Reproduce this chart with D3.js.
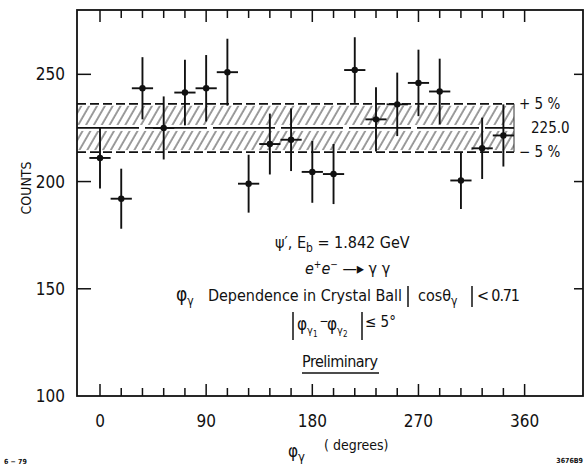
<!DOCTYPE html>
<html>
<head>
<meta charset="utf-8">
<script src="https://cdn.jsdelivr.net/npm/d3@7"></script>
<style>
  html, body { margin: 0; padding: 0; background: #fff; }
  svg { display: block; }
  text { fill: #111; }
</style>
</head>
<body>
<svg id="chart" width="588" height="467"></svg>
<script>
// phi_gamma bin centres (degrees), 18-degree bins
const phiBins = [0, 18, 36, 54, 72, 90, 108, 126, 144, 162, 180, 198, 216, 234, 252, 270, 288, 306, 324, 342];
// counts per bin
const counts = [211, 192, 243.5, 225, 241.5, 243.5, 251, 199, 217.5, 219.5, 204.5, 203.5, 252, 229, 236, 246, 242, 200.5, 215.5, 221.5];
// statistical errors per bin
const countErrors = [14.2, 14, 14.5, 14.7, 15.3, 15.5, 15.6, 13.5, 14.2, 14.6, 14.4, 14, 15.3, 15, 14.8, 15.5, 15.3, 13.3, 14.3, 14.5];
const binHalfWidth = 9;

// flat fit and its +-5% band
const bandMean = 225.0;
const bandPercent = 5;
const bandEndPhi = 351;

// axis ticks
const xMajorTicks = [0, 90, 180, 270, 360];
const xMinorTicks = d3.range(0, 361, 18);
const yTicks = [100, 150, 200, 250];

const FONT = "'DejaVu Sans Condensed', 'Liberation Sans Narrow', 'DejaVu Sans', sans-serif";

const svg = d3.select("#chart");
const frame = { left: 77, right: 583, top: 10, bottom: 396 };

const x = d3.scaleLinear().domain([-19.5, 409.5]).range([frame.left, frame.right]);
const y = d3.scaleLinear().domain([100, 280]).range([frame.bottom, frame.top]);

// hatch pattern for the band: thin lines leaning to the right
const defs = svg.append("defs");
const pat = defs.append("pattern")
  .attr("id", "hatch")
  .attr("patternUnits", "userSpaceOnUse")
  .attr("width", 6.8).attr("height", 10)
  .attr("patternTransform", "rotate(30)");
pat.append("line")
  .attr("x1", 1).attr("y1", -1).attr("x2", 1).attr("y2", 11)
  .attr("stroke", "#3a3a3a").attr("stroke-width", 1);

const bandHi = bandMean * (1 + bandPercent / 100);
const bandLo = bandMean * (1 - bandPercent / 100);
const bx0 = x(x.domain()[0]), bx1 = x(bandEndPhi);

// hatched halves, kept clear of the centre line
svg.append("rect")
  .attr("x", bx0).attr("width", bx1 - bx0)
  .attr("y", y(bandHi) + 2).attr("height", y(bandMean) - y(bandHi) - 5)
  .attr("fill", "url(#hatch)");
svg.append("rect")
  .attr("x", bx0).attr("width", bx1 - bx0)
  .attr("y", y(bandMean) + 3).attr("height", y(bandLo) - y(bandMean) - 5)
  .attr("fill", "url(#hatch)");

// dashed band edges
[bandHi, bandLo].forEach(v => {
  svg.append("line")
    .attr("x1", bx0).attr("x2", bx1)
    .attr("y1", y(v)).attr("y2", y(v))
    .attr("stroke", "#111").attr("stroke-width", 1.8)
    .attr("stroke-dasharray", "9,4");
});
// right edge of band
svg.append("line")
  .attr("x1", bx1).attr("x2", bx1)
  .attr("y1", y(bandHi)).attr("y2", y(bandLo))
  .attr("stroke", "#333").attr("stroke-width", 1);
// centre line
svg.append("line")
  .attr("x1", bx0).attr("x2", bx1)
  .attr("y1", y(bandMean)).attr("y2", y(bandMean))
  .attr("stroke", "#111").attr("stroke-width", 1.8)
  .attr("stroke-dasharray", "62,6");

// band labels
const lab = svg.append("g").attr("font-family", FONT).attr("font-size", 15);
lab.append("text").attr("x", x(bandEndPhi) + 5).attr("y", y(bandHi) + 5).text(`+ ${bandPercent} %`);
lab.append("text").attr("x", x(bandEndPhi) + 17).attr("y", y(bandMean) + 5).text(bandMean.toFixed(1));
lab.append("text").attr("x", x(bandEndPhi) + 5).attr("y", y(bandLo) + 5).text(`\u2212 ${bandPercent} %`);

// data points with error bars
const pts = svg.append("g").attr("stroke", "#111").attr("stroke-width", 1.9);
phiBins.forEach((p, i) => {
  const c = counts[i], e = countErrors[i];
  pts.append("line")
    .attr("x1", x(p)).attr("x2", x(p))
    .attr("y1", y(c - e)).attr("y2", y(c + e));
  pts.append("line")
    .attr("x1", x(p - binHalfWidth)).attr("x2", x(p + binHalfWidth))
    .attr("y1", y(c)).attr("y2", y(c));
  pts.append("circle")
    .attr("cx", x(p)).attr("cy", y(c)).attr("r", 3.2)
    .attr("fill", "#111").attr("stroke", "none");
});

// frame
svg.append("rect")
  .attr("x", frame.left).attr("y", frame.top)
  .attr("width", frame.right - frame.left).attr("height", frame.bottom - frame.top)
  .attr("fill", "none").attr("stroke", "#111").attr("stroke-width", 1.8);

// x ticks (bottom and top, pointing in)
const tk = svg.append("g").attr("stroke", "#111").attr("stroke-width", 1.5);
xMinorTicks.forEach(t => {
  const len = xMajorTicks.includes(t) ? 12 : 8;
  tk.append("line").attr("x1", x(t)).attr("x2", x(t)).attr("y1", frame.bottom).attr("y2", frame.bottom - len);
  tk.append("line").attr("x1", x(t)).attr("x2", x(t)).attr("y1", frame.top).attr("y2", frame.top + len);
});
// y ticks
yTicks.filter(t => t > 100).forEach(t => {
  tk.append("line").attr("x1", frame.left).attr("x2", frame.left + 14).attr("y1", y(t)).attr("y2", y(t));
  tk.append("line").attr("x1", frame.right).attr("x2", frame.right - 9).attr("y1", y(t)).attr("y2", y(t));
});

// tick labels
const tl = svg.append("g").attr("font-family", FONT).attr("font-size", 17);
xMajorTicks.forEach(t => {
  tl.append("text").attr("x", x(t)).attr("y", 427).attr("text-anchor", "middle").text(t);
});
yTicks.forEach(t => {
  tl.append("text").attr("x", 65).attr("y", y(t) + 6).attr("text-anchor", "end").text(t);
});

// axis titles
svg.append("text")
  .attr("font-family", FONT).attr("font-size", 14)
  .attr("transform", "translate(31,188) rotate(-90)")
  .attr("text-anchor", "middle").text("COUNTS");

const xt = svg.append("text").attr("font-family", FONT).attr("font-size", 17).attr("x", 288).attr("y", 457);
xt.append("tspan").text("\u03c6");
xt.append("tspan").attr("font-size", 13).attr("dy", 4).text("\u03b3");
svg.append("text").attr("font-family", FONT).attr("font-size", 14)
  .attr("x", 324).attr("y", 450).text("( degrees)");

// annotation block
const ann = svg.append("g").attr("font-family", FONT).attr("font-size", 16);

// line 1: beam energy
const t1 = ann.append("text").attr("x", 275).attr("y", 248);
t1.append("tspan").text("\u03c8\u2032, E");
t1.append("tspan").attr("font-size", 12).attr("dy", 4).text("b");
t1.append("tspan").attr("dy", -4).text(" = 1.842 GeV");

// line 2: reaction
const t2 = ann.append("text").attr("x", 305).attr("y", 274);
t2.append("tspan").attr("font-style", "italic").text("e");
t2.append("tspan").attr("font-size", 10).attr("dy", -6).text("+");
t2.append("tspan").attr("font-style", "italic").attr("dy", 6).text("e");
t2.append("tspan").attr("font-size", 10).attr("dy", -6).text("\u2212");
t2.append("tspan").attr("dy", 6).text(" \u2014\u25B8 \u03b3 \u03b3");

// line 3: angular cut
const t3a = ann.append("text").attr("x", 176).attr("y", 301);
t3a.append("tspan").attr("font-size", 19).text("\u03c6");
t3a.append("tspan").attr("font-size", 12).attr("dy", 4).text("\u03b3");
ann.append("text").attr("x", 208).attr("y", 301)
  .attr("textLength", 194).attr("lengthAdjust", "spacing")
  .text("Dependence in Crystal Ball");
const t3b = ann.append("text").attr("x", 418).attr("y", 301);
t3b.append("tspan").text("cos\u03b8");
t3b.append("tspan").attr("font-size", 12).attr("dy", 4).text("\u03b3");
ann.append("text").attr("x", 477).attr("y", 301)
  .attr("textLength", 43).attr("lengthAdjust", "spacing").text("< 0.71");

// line 4: acoplanarity cut
const t4a = ann.append("text").attr("x", 297).attr("y", 330);
t4a.append("tspan").attr("font-size", 17).text("\u03c6");
t4a.append("tspan").attr("font-size", 11).attr("dy", 4).text("\u03b3");
t4a.append("tspan").attr("font-size", 8).attr("dy", 3).text("1");
ann.append("text").attr("x", 319.5).attr("y", 325).attr("font-size", 12).text("\u2212");
const t4b = ann.append("text").attr("x", 327).attr("y", 330);
t4b.append("tspan").attr("font-size", 17).text("\u03c6");
t4b.append("tspan").attr("font-size", 11).attr("dy", 4).text("\u03b3");
t4b.append("tspan").attr("font-size", 8).attr("dy", 3).text("2");
ann.append("text").attr("x", 365).attr("y", 327).attr("font-size", 15).text("\u2264 5\u00b0");

// line 5
ann.append("text").attr("x", 340).attr("y", 367).attr("text-anchor", "middle")
  .attr("textLength", 76).attr("lengthAdjust", "spacing").text("Preliminary");

// absolute-value bars and underline
const bars = svg.append("g").attr("stroke", "#111").attr("stroke-width", 1.5);
bars.append("line").attr("x1", 408).attr("x2", 408).attr("y1", 286).attr("y2", 307);
bars.append("line").attr("x1", 472).attr("x2", 472).attr("y1", 286).attr("y2", 307);
bars.append("line").attr("x1", 293).attr("x2", 293).attr("y1", 312).attr("y2", 340);
bars.append("line").attr("x1", 362).attr("x2", 362).attr("y1", 312).attr("y2", 340);
bars.append("line").attr("x1", 302).attr("x2", 379).attr("y1", 373).attr("y2", 373);

// figure codes
const fc = svg.append("g").attr("font-family", FONT).attr("font-size", 7).attr("font-weight", "bold");
fc.append("text").attr("x", 4).attr("y", 464).text("6 \u2212 79");
fc.append("text").attr("x", 583).attr("y", 463).attr("text-anchor", "end").text("3676B9");
</script>
</body>
</html>
